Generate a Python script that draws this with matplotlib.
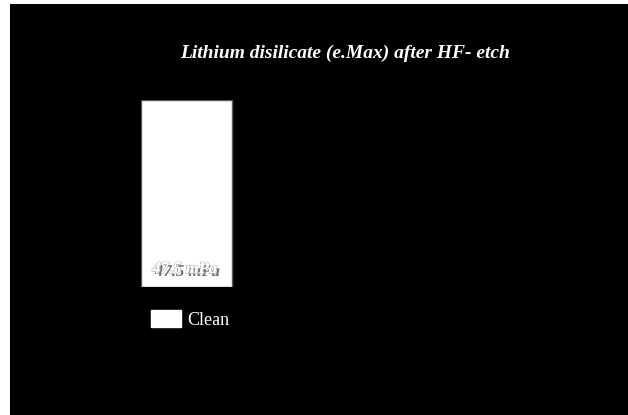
import matplotlib
matplotlib.use("Agg")
import matplotlib.pyplot as plt
import matplotlib.patheffects as pe
from matplotlib.patches import Rectangle

# donnees
categories = ["Clean"]
valeurs = [47.5]
etiquettes = ["47.5 mPa"]
titre = "Lithium disilicate (e.Max) after HF- etch"

W, H = 628, 415
fig = plt.figure(figsize=(W / 100, H / 100), dpi=100, facecolor="white")
# fond noir avec une petite marge blanche a gauche et en haut
fig.patches.append(Rectangle((10 / W, 0), 1 - 10 / W, 1 - 4 / H,
                             transform=fig.transFigure, facecolor="black",
                             edgecolor="none", zorder=-1))

# axes calés sur la barre
ax = fig.add_axes([141 / W, (H - 287) / H, (600 - 141) / W, (287 - 100) / H])
ax.set_zorder(2)
ax.set_facecolor("none")
largeur = 1.0
barres = ax.bar(range(len(valeurs)), valeurs, width=largeur, align="edge",
                color="white", edgecolor="#5a5a5a", linewidth=1,
                label=categories[0])
ax.set_ylim(0, max(valeurs))
ax.set_xlim(0, (600 - 141) / (232 - 141))
ax.axis("off")

for b, txt in zip(barres, etiquettes):
    ax.text(b.get_x() + b.get_width() / 2 - 0.02, b.get_height() * 0.095, txt,
            ha="center", va="center", color="white", fontsize=12,
            family="Liberation Serif", style="italic", weight="bold",
            path_effects=[pe.SimplePatchShadow(offset=(2, -2),
                                               shadow_rgbFace="#505050", alpha=0.8),
                          pe.withStroke(linewidth=0.8, foreground="#9a9a9a"),
                          pe.Normal()])

fig.text(345 / W, 1 - 53 / H, titre, ha="center", va="center", color="white",
         fontsize=14, family="Liberation Serif", style="italic", weight="bold")

leg = fig.legend(handles=[barres[0]], labels=categories, loc="upper left",
                 bbox_to_anchor=(151 / W, 1 - 310 / H), frameon=False,
                 borderpad=0, borderaxespad=0, handlelength=1.65,
                 handleheight=1.05, handletextpad=0.35,
                 prop={"family": "Liberation Serif", "size": 13})
leg.set_zorder(3)
for t in leg.get_texts():
    t.set_color("white")
for h in leg.legend_handles:
    h.set_edgecolor("white")

fig.savefig("out.png", dpi=100, facecolor=fig.get_facecolor())
